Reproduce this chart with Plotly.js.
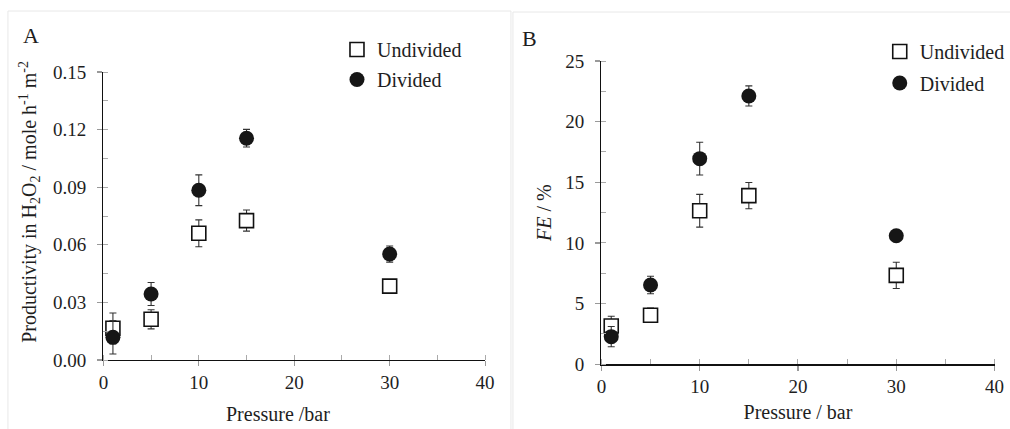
<!DOCTYPE html>
<html>
<head>
<meta charset="utf-8">
<script src="https://cdn.plot.ly/plotly-3.0.1.min.js"></script>
<style>html,body{margin:0;padding:0;background:#fff;}#chart{width:1010px;height:429px;}</style>
</head>
<body>
<div id="chart"></div>
<script>
// Shared pressure values (bar)
var pressure = [1, 5, 10, 15, 30];

// Panel A: productivity in H2O2 (mole h^-1 m^-2)
var prodUndivided = [0.0165, 0.0212, 0.0660, 0.0726, 0.0385];
var prodUndividedErr = [0.008, 0.005, 0.007, 0.0055, 0.0015];
var prodDivided = [0.0118, 0.0344, 0.0884, 0.1155, 0.0552];
var prodDividedErr = [0.0087, 0.006, 0.008, 0.0046, 0.0042];

// Panel B: Faradaic efficiency (%)
var feUndivided = [3.16, 4.04, 12.66, 13.9, 7.33];
var feUndividedErr = [0.8, 0.6, 1.35, 1.08, 1.08];
var feDivided = [2.28, 6.54, 16.95, 22.12, 10.6];
var feDividedErr = [0.83, 0.72, 1.35, 0.83, 0.4];

var seriesNames = ['Undivided', 'Divided'];
var yTicksA = [0, 0.03, 0.06, 0.09, 0.12, 0.15];
var yTicksB = [0, 5, 10, 15, 20, 25];
var xTicks = [0, 10, 20, 30, 40];

var FONT = 'Liberation Serif';
var TXT = '#1e1e1e';

function sq(x, y, e, xa, ya, lg) {
  return {x: x, y: y, xaxis: xa, yaxis: ya, type: 'scatter', mode: 'markers', name: seriesNames[0],
    legend: lg, legendgroup: lg + 'u',
    marker: {symbol: 'square', size: 14, color: '#ffffff', line: {color: '#111', width: 1.6}},
    error_y: {type: 'data', array: e, visible: true, color: '#333', thickness: 1.1, width: 3.5}};
}
function ci(x, y, e, xa, ya, lg) {
  return {x: x, y: y, xaxis: xa, yaxis: ya, type: 'scatter', mode: 'markers', name: seriesNames[1],
    legend: lg, legendgroup: lg + 'd',
    marker: {symbol: 'circle', size: 15, color: '#161616', line: {width: 0}},
    error_y: {type: 'data', array: e, visible: true, color: '#333', thickness: 1.1, width: 3.5}};
}

var data = [
  sq(pressure, prodUndivided, prodUndividedErr, 'x', 'y', 'legend'),
  ci(pressure, prodDivided, prodDividedErr, 'x', 'y', 'legend'),
  sq(pressure, feUndivided, feUndividedErr, 'x2', 'y2', 'legend2'),
  ci(pressure, feDivided, feDividedErr, 'x2', 'y2', 'legend2')
];

function xax(domain, anchor, title, standoff) {
  var a = {domain: domain, anchor: anchor, range: [0, 40], tickvals: xTicks, ticktext: xTicks.map(String),
    showgrid: false, zeroline: false, showline: true, linecolor: '#111', linewidth: 1.3,
    ticks: 'outside', ticklen: 5, tickcolor: '#999', tickwidth: 1.2,
    minor: {ticks: 'inside', ticklen: 5, dtick: 5, tick0: 0, tickcolor: '#aaa', tickwidth: 1, showgrid: false},
    tickfont: {family: FONT, size: 19, color: TXT}};
  if (title) a.title = {text: title, font: {family: FONT, size: 20, color: TXT}, standoff: standoff};
  return a;
}
function yax(domain, anchor, range, tv, fmt, minorD, title, standoff) {
  var a = {domain: domain, anchor: anchor, range: range, tickvals: tv, ticktext: tv.map(function(v){return fmt(v);}),
    showgrid: false, zeroline: false, showline: true, linecolor: '#111', linewidth: 1.3,
    ticks: 'outside', ticklen: 5, tickcolor: '#999', tickwidth: 1.2, ticklabelstandoff: 7,
    minor: {ticks: 'inside', ticklen: 5, dtick: minorD, tick0: 0, tickcolor: '#aaa', tickwidth: 1, showgrid: false},
    tickfont: {family: FONT, size: 19, color: TXT}};
  if (title) a.title = {text: title, font: {family: FONT, size: 20, color: TXT}, standoff: standoff};
  return a;
}

var layout = {
  width: 1010, height: 429,
  margin: {l: 0, r: 0, t: 0, b: 0},
  paper_bgcolor: '#fff', plot_bgcolor: 'rgba(0,0,0,0)',
  font: {family: FONT, color: TXT},
  xaxis: xax([104/1010, 488/1010], 'y', null, 0),
  yaxis: yax([69/429, 357/429], 'x', [0, 0.15], yTicksA, function(v){return v.toFixed(2);}, 0.015, null, 0),
  xaxis2: xax([605/1010, 1000.5/1010], 'y2', 'Pressure / bar', 8),
  yaxis2: yax([64.7/429, 368/429], 'x2', [0, 25], yTicksB, function(v){return String(v);}, 2.5,
    '<i>FE</i> / %', 8),
  showlegend: true,
  legend: {x: 339/1010, y: 1 - 30/429, xanchor: 'left', yanchor: 'top', bgcolor: 'rgba(0,0,0,0)',
    font: {family: FONT, size: 20, color: TXT}, traceorder: 'grouped', tracegroupgap: 1, itemclick: false},
  legend2: {x: 885/1010, y: 1 - 32/429, xanchor: 'left', yanchor: 'top', bgcolor: 'rgba(0,0,0,0)',
    font: {family: FONT, size: 20, color: TXT}, traceorder: 'grouped', tracegroupgap: 2.5, itemclick: false},
  annotations: [
    {text: 'A', x: 31/1010, y: 1 - 35/429, xref: 'paper', yref: 'paper', showarrow: false,
      xanchor: 'center', yanchor: 'middle', font: {family: FONT, size: 22, color: TXT}},
    {text: 'B', x: 533/1010, y: 1 - 38/429, xref: 'paper', yref: 'paper', showarrow: false,
      xanchor: 'center', yanchor: 'middle', font: {family: FONT, size: 22, color: TXT}},
    {text: 'Pressure /bar', x: 280/1010, y: 1 - 414/429, xref: 'paper', yref: 'paper', showarrow: false,
      xanchor: 'center', yanchor: 'middle', font: {family: FONT, size: 20, color: TXT}},
    {text: 'Productivity in H<sub>2</sub>O<sub>2</sub> / mole h<sup>-1</sup> m<sup>-2</sup>',
      x: 30/1010, y: 1 - 202/429, xref: 'paper', yref: 'paper', showarrow: false, textangle: -90,
      xanchor: 'center', yanchor: 'middle', font: {family: FONT, size: 20, color: TXT}}
  ],
  shapes: [
    {type: 'rect', xref: 'paper', yref: 'paper', x0: 8/1010, x1: 514/1010, y0: -0.05, y1: 1 - 11/429,
      line: {color: '#e8e8e8', width: 1}},
    {type: 'rect', xref: 'paper', yref: 'paper', x0: 516/1010, x1: 1.02, y0: -0.05, y1: 1 - 12/429,
      line: {color: '#e8e8e8', width: 1}}
  ]
};

Plotly.newPlot('chart', data, layout, {displayModeBar: false, staticPlot: true});
</script>
</body>
</html>
